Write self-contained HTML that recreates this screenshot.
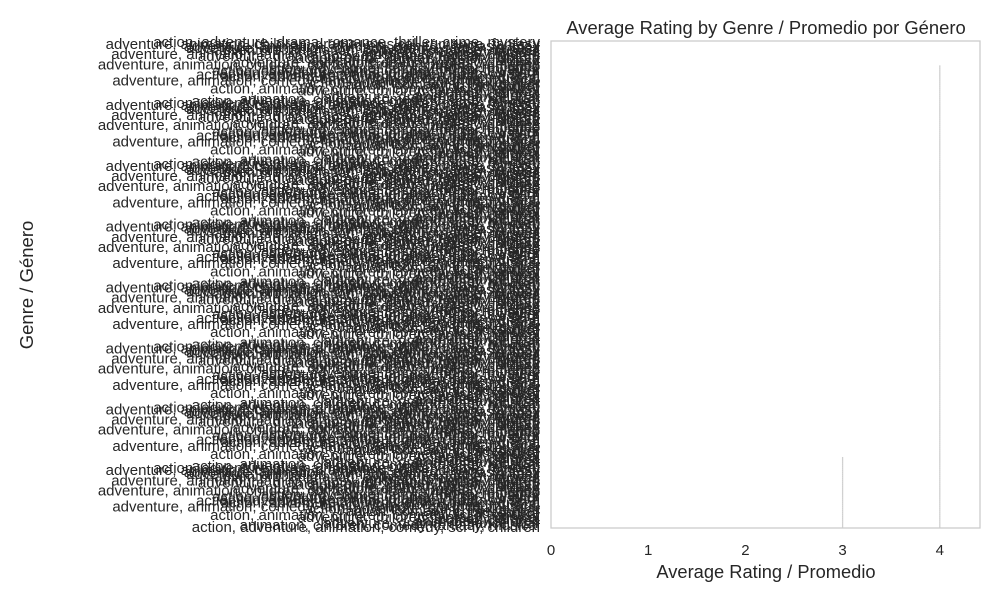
<!DOCTYPE html>
<html><head><meta charset="utf-8"><style>
body{margin:0;background:#fff;font-family:"Liberation Sans","DejaVu Sans",sans-serif}
svg text{font-family:"Liberation Sans","DejaVu Sans",sans-serif;fill:#262626}
</style></head><body>
<svg id="chart" width="1000" height="600" viewBox="0 0 1000 600">
<rect x="0" y="0" width="1000" height="600" fill="#fff"/>
<g id="bars"></g>
<g id="labels"></g>
<rect x="551" y="41" width="429" height="487" fill="none" stroke="#cccccc" stroke-width="1.3"/>
<g id="xticks"></g>
<text x="766" y="34" font-size="18.4" text-anchor="middle">Average Rating by Genre / Promedio por Género</text>
<text x="766" y="578" font-size="18.3" text-anchor="middle">Average Rating / Promedio</text>
<text x="33" y="285" font-size="18.5" text-anchor="middle" transform="rotate(-90 33 285)">Genre / Género</text>
</svg>
<script>
const genreNames = ["action, adventure, drama, romance, thriller, crime, mystery","adventure, animation, children, comedy, fantasy, musical, romance","action, adventure","adventure, animation, comedy, drama, family, fantasy","action, adventure, animation, drama, sci-fi, thriller","comedy, drama","adventure, animation, family, fantasy, musical, romance, children","action, adventure, comedy, crime, thriller, drama","animation, children, comedy, fantasy, musical","adventure, comedy, family, fantasy","action, adventure, sci-fi, thriller, war","adventure, animation, children, drama, musical, romance, fantasy","drama, romance","action, animation, children, comedy, sci-fi, fantasy","adventure, animation, comedy, romance, musical","action, adventure, crime, drama, thriller, western","animation, children","adventure, drama, comedy, fantasy, thriller, mystery","comedy, romance, drama, musical","action, adventure, animation, comedy, sci-fi, children","adventure, animation, drama, fantasy, children","action, comedy, crime, thriller","adventure, animation, children, comedy, fantasy, imax","action, adventure, fantasy, horror, mystery","adventure, children, fantasy, musical","animation, comedy, drama","action, adventure, animation, children, fantasy, sci-fi","adventure, drama, romance, war","action, crime, thriller, mystery, drama","adventure, animation, comedy, family, fantasy, romance, musical"];
const categories = [];
for (let i = 0; i < 240; i++) categories.push(genreNames[(i * 11) % genreNames.length]);
const ratingsMain = [0,0,0,0,0,0,0,0,0,0,0,0,
4,4,4,4,4,4,4,4,4,4,4,4,4,4,4,4,4,4,4,4,4,4,4,4,4,4,4,4,4,4,4,4,4,4,4,4,4,4,4,4,4,4,4,4,4,4,4,4,
4,4,4,4,4,4,4,4,4,4,4,4,4,4,4,4,4,4,4,4,4,4,4,4,4,4,4,4,4,4,4,4,4,4,4,4,4,4,4,4,4,4,4,4,4,4,4,4,
4,4,4,4,4,4,4,4,4,4,4,4,4,4,4,4,4,4,4,4,4,4,4,4,4,4,4,4,4,4,4,4,4,4,4,4,4,4,4,4,4,4,4,4,4,4,4,4,
4,4,4,4,4,4,4,4,4,4,4,4,4,4,4,4,4,4,4,4,4,4,4,4,4,4,4,4,4,4,4,4,4,4,4,4,4,4,4,4,4,4,4,4,4,4,4,4,
4,4,4,4,4,4,4,4,4,4,4,4,4,4,4,4,4,4,4,4,4,4,4,4,4,4,4,4,4,4,4,4,4,4,4,4,4,4,4,4,4,4,4,4,4,4,4,4];
const ratingsLow = [0,0,0,0,0,0,0,0,0,0,0,0,0,0,0,0,0,0,0,0,0,0,0,0,0,0,0,0,0,0,0,0,0,0,0,0,0,0,0,0,
0,0,0,0,0,0,0,0,0,0,0,0,0,0,0,0,0,0,0,0,0,0,0,0,0,0,0,0,0,0,0,0,0,0,0,0,0,0,0,0,
0,0,0,0,0,0,0,0,0,0,0,0,0,0,0,0,0,0,0,0,0,0,0,0,0,0,0,0,0,0,0,0,0,0,0,0,0,0,0,0,
0,0,0,0,0,0,0,0,0,0,0,0,0,0,0,0,0,0,0,0,0,0,0,0,0,0,0,0,0,0,0,0,0,0,0,0,0,0,0,0,
0,0,0,0,0,0,0,0,0,0,0,0,0,0,0,0,0,0,0,0,0,0,0,0,0,0,0,0,0,0,0,0,0,0,0,0,0,0,0,0,
0,0,0,0,0,3,3,3,3,3,3,3,3,3,3,3,3,3,3,3,3,3,3,3,3,3,3,3,3,3,3,3,3,3,3,3,3,3,3,3];
const xTicks = [0,1,2,3,4];
const NS="http://www.w3.org/2000/svg";
const X0=551, XS=97.2, Y0=41, Y1=528;
const xScale = v => X0 + v*XS;
const band = (Y1-Y0)/categories.length;
const yScale = i => Y0 + i*band;
const bars=document.getElementById('bars'), labels=document.getElementById('labels'), xt=document.getElementById('xticks');
function edge(v,i,name){
  if(!v) return;
  const l=document.createElementNS(NS,'line');
  l.setAttribute('x1',xScale(v));l.setAttribute('x2',xScale(v));
  l.setAttribute('y1',yScale(i));l.setAttribute('y2',yScale(i)+band);
  l.setAttribute('stroke','#d0d0d0');l.setAttribute('stroke-width','1.3');
  
  
  bars.appendChild(l);
}
categories.forEach((c,i)=>{
  edge(ratingsMain[i],i,'bar');
  edge(ratingsLow[i],i,'bar-low');
  const t=document.createElementNS(NS,'text');
  t.setAttribute('x',540);t.setAttribute('y',yScale(i)+band/2+5);
  t.setAttribute('font-size','15');t.setAttribute('text-anchor','end');
  t.textContent=c;
  
  
  labels.appendChild(t);
});
xTicks.forEach(v=>{
  const t=document.createElementNS(NS,'text');
  t.setAttribute('x',xScale(v));t.setAttribute('y',555);
  t.setAttribute('font-size','15');t.setAttribute('text-anchor','middle');
  t.textContent=v;
  
  
  xt.appendChild(t);
});
</script>
</body></html>
